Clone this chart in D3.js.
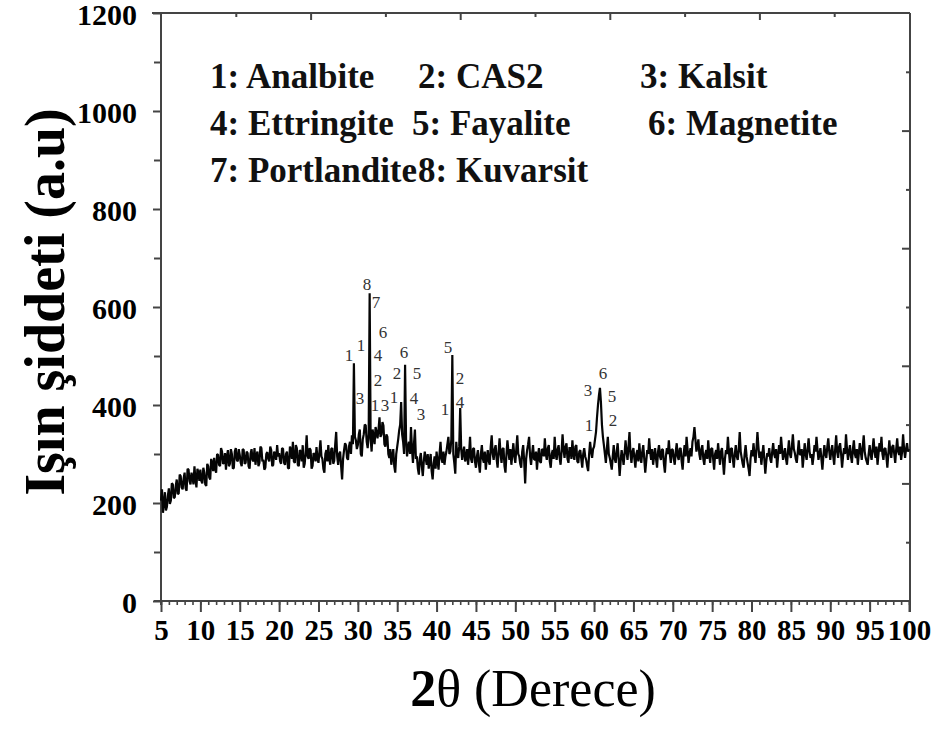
<!DOCTYPE html>
<html><head><meta charset="utf-8">
<script src="https://cdn.jsdelivr.net/npm/d3@7"></script>
<style>body{margin:0;background:#fff}svg{display:block}</style>
</head><body><svg id="c" width="943" height="731"></svg>
<script>
// ---- data ----
const twoThetaStart = 5, twoThetaStep = 0.125;
const intensity = [
205,228,180,200,222,185,192,215,230,198,205,240,238,210,212,235,248,218,220,258,255,232,228,250,262,230,225,270,268,245,238,262,252,238,275,248,232,270,262,245,
268,245,240,272,262,238,235,280,275,252,248,290,282,265,292,270,262,300,298,278,275,312,305,280,282,302,268,295,308,275,280,310,300,270,272,305,312,288,285,310,
298,282,275,310,308,280,282,305,302,275,270,300,310,288,285,312,278,298,305,275,282,315,312,285,288,268,272,300,304,290,285,315,308,275,278,305,300,288,318,295,
302,285,280,312,310,282,278,300,305,272,270,315,308,290,325,285,282,318,312,278,275,308,305,285,318,272,280,305,338,295,290,312,308,270,276,302,298,285,314,290,
282,305,328,295,290,270,262,300,308,285,318,290,278,310,312,280,286,320,345,295,278,300,305,275,248,290,308,322,318,292,288,315,325,300,338,320,485,335,328,310,
318,340,350,300,295,330,340,360,358,325,312,340,628,330,305,350,335,320,355,345,332,350,375,335,340,365,358,320,315,340,335,300,292,310,278,295,310,275,262,300,
315,330,348,360,406,340,325,300,482,330,295,315,325,300,355,310,282,320,350,290,295,270,258,290,302,275,255,285,305,290,278,300,270,285,300,265,248,280,295,270,
305,285,268,300,325,290,282,305,278,295,305,320,335,300,305,330,502,300,282,260,325,300,292,315,394,310,288,305,315,285,292,310,278,300,335,290,282,310,312,285,
272,295,308,280,262,300,318,290,282,305,268,290,308,285,278,315,338,300,288,310,318,290,272,305,332,300,282,310,312,275,262,300,328,305,288,310,278,300,322,295,
282,310,338,300,295,280,272,305,318,285,240,290,308,320,335,295,278,300,318,290,288,305,268,295,312,285,282,310,308,295,332,300,288,312,318,285,272,300,308,290,
335,300,288,310,318,292,278,305,340,310,292,315,322,290,282,312,312,290,328,300,288,315,318,285,282,305,308,290,272,300,312,295,288,275,265,300,325,305,292,310,
315,330,345,375,400,420,435,405,360,335,318,300,282,310,335,300,292,280,268,295,318,290,282,305,322,290,255,285,308,295,278,300,328,305,288,315,345,300,282,305,
312,290,272,300,308,285,322,295,282,305,318,290,262,285,308,300,332,305,288,310,278,295,312,290,272,305,318,295,288,310,308,280,262,295,312,300,328,300,282,310,
308,290,278,305,322,295,288,310,312,285,268,300,318,295,335,310,282,300,312,295,325,335,355,330,305,315,330,300,288,310,318,290,278,300,308,290,328,300,282,310,
312,290,268,300,308,290,322,300,278,305,312,285,258,290,308,300,335,305,282,310,312,290,272,300,318,295,288,310,345,305,292,280,272,300,318,295,282,270,255,290,
308,295,322,300,282,310,345,315,292,305,278,300,318,290,260,285,302,295,312,290,282,305,322,300,292,310,272,295,318,300,335,310,288,300,312,290,278,305,328,300,
292,315,340,310,302,290,282,305,328,300,298,310,272,295,322,300,288,310,332,305,292,300,278,295,318,305,335,310,288,300,312,290,268,295,318,300,292,315,332,305,
288,305,318,295,278,310,338,305,292,315,322,300,272,295,312,300,340,310,288,305,318,295,282,310,328,300,292,310,278,300,322,305,288,315,338,305,292,285,278,300,
318,300,288,310,332,305,292,315,278,300,322,305,335,300,288,310,312,295,272,300,328,305,292,315,318,300,282,310,332,305,298,315,288,305,340,310,292,310,322,305,
310];
const xTickValues = [5,10,15,20,25,30,35,40,45,50,55,60,65,70,75,80,85,90,95,100];
const yTickValues = [0,200,400,600,800,1000,1200];
const legendRows = [
  ["1: Analbite", "2: CAS2", "3: Kalsit"],
  ["4: Ettringite", "5: Fayalite", "6: Magnetite"],
  ["7: Portlandite", "8: Kuvarsit"]
];
// peak labels: [text, 2theta, intensity]
const peakLabels = [
  ["1",28.88,502],["3",30.27,414],["1",30.4,522],["8",31.16,645],["7",32.3,610],
  ["6",33.2,547],["4",32.56,502],["2",32.56,451],["1",32.18,400],["3",33.45,400],
  ["2",34.97,465],["6",35.86,508],["5",37.51,465],["1",34.59,416],["4",37.13,414],
  ["3",38.02,380],["5",41.45,518],["1",41.07,390],["2",42.97,455],["4",42.97,406],
  ["6",61.13,465],["3",59.23,429],["5",62.28,418],["1",59.36,359],["2",62.4,369]
];
const xTitleBold = "2", xTitleRest = "θ (Derece)";
const yTitle = "Işın şiddeti (a.u)";

// ---- drawing ----
const svg = d3.select("#c");
const serif = "'Liberation Serif', 'Times New Roman', Times, serif";
const x = d3.scaleLinear().domain([5,100]).range([161,909]);
const y = d3.scaleLinear().domain([0,1200]).range([601,13]);
const axisColor = "#444";

const pts = intensity.map((v,i)=>[twoThetaStart + i*twoThetaStep, v]);

// frame lines
svg.append("line").attr("x1",152).attr("x2",910).attr("y1",y(1200)).attr("y2",y(1200))
  .attr("stroke",axisColor).attr("stroke-width",2);
svg.append("line").attr("x1",910).attr("x2",910).attr("y1",y(1200)).attr("y2",612)
  .attr("stroke",axisColor).attr("stroke-width",2);

// bottom minor ticks
const minor = d3.range(5,101,1);
svg.append("g").attr("transform",`translate(0,${y(0)})`)
  .call(d3.axisBottom(x).tickValues(minor).tickSize(4).tickSizeOuter(0).tickFormat(""))
  .call(g=>{g.select(".domain").remove(); g.selectAll("line").attr("stroke",axisColor).attr("stroke-width",1.6);});
// bottom major axis
svg.append("g").attr("transform",`translate(0,${y(0)})`)
  .call(d3.axisBottom(x).tickValues(xTickValues).tickSize(11).tickSizeOuter(0).tickPadding(7).tickFormat(d3.format("d")))
  .call(g=>{
    g.select(".domain").attr("stroke",axisColor).attr("stroke-width",2).attr("d",`M154,0H910`);
    g.selectAll("line").attr("stroke",axisColor).attr("stroke-width",2);
    g.selectAll("text").attr("fill","#000").style("font-family",serif).style("font-weight","bold").style("font-size","29px");
  });

// left axis
svg.append("g").attr("transform",`translate(${x(5)},0)`)
  .call(d3.axisLeft(y).tickValues(d3.range(100,1200,200)).tickSize(7).tickFormat(""))
  .call(g=>{g.select(".domain").remove(); g.selectAll("line").attr("stroke",axisColor).attr("stroke-width",2);});
svg.append("g").attr("transform",`translate(${x(5)},0)`)
  .call(d3.axisLeft(y).tickValues(yTickValues).tickSize(8).tickSizeOuter(0).tickPadding(16).tickFormat(d3.format("d")))
  .call(g=>{
    g.select(".domain").attr("stroke",axisColor).attr("stroke-width",2).attr("d",`M0,${y(1200)}V${y(0)+4}`);
    g.selectAll("line").attr("stroke",axisColor).attr("stroke-width",2);
    g.selectAll("text").attr("fill","#000").attr("dy","0.38em").style("font-family",serif).style("font-weight","bold").style("font-size","30px");
  });

// top axis: 10 divisions, inward
const topScale = d3.scaleLinear().domain([0,10]).range([161,909]);
svg.append("g").attr("transform",`translate(0,${y(1200)})`)
  .call(d3.axisTop(topScale).tickValues([2,4,6,8]).tickSize(-7).tickFormat(""))
  .call(g=>{g.select(".domain").remove(); g.selectAll("line").attr("stroke",axisColor).attr("stroke-width",2);});
svg.append("g").attr("transform",`translate(0,${y(1200)})`)
  .call(d3.axisTop(topScale).tickValues([1,3,5,7,9]).tickSize(-4).tickFormat(""))
  .call(g=>{g.select(".domain").remove(); g.selectAll("line").attr("stroke",axisColor).attr("stroke-width",2);});
// right axis: 10 divisions, inward
const rightScale = d3.scaleLinear().domain([0,10]).range([601,13]);
svg.append("g").attr("transform",`translate(910,0)`)
  .call(d3.axisRight(rightScale).tickValues([2,4,6,8]).tickSize(-8).tickFormat(""))
  .call(g=>{g.select(".domain").remove(); g.selectAll("line").attr("stroke",axisColor).attr("stroke-width",2);});
svg.append("g").attr("transform",`translate(910,0)`)
  .call(d3.axisRight(rightScale).tickValues([1,3,5,7,9]).tickSize(-4).tickFormat(""))
  .call(g=>{g.select(".domain").remove(); g.selectAll("line").attr("stroke",axisColor).attr("stroke-width",2);});

// pattern line
svg.append("path").datum(pts)
  .attr("d", d3.line().x(d=>x(d[0])).y(d=>y(d[1])))
  .attr("fill","none").attr("stroke","#050505").attr("stroke-width",2.2).attr("stroke-linejoin","miter").attr("stroke-miterlimit",2);

// peak labels
svg.append("g").selectAll("text").data(peakLabels).join("text")
  .attr("x",d=>x(d[1])).attr("y",d=>y(d[2]))
  .attr("text-anchor","middle").attr("dominant-baseline","central")
  .style("font-family",serif).style("font-size","17px").attr("fill","#333")
  .text(d=>d[0]);

// legend
const colX = [[210,418,640],[210,412,648],[210,418]];
const rowY = [88,135,182];
legendRows.forEach((row,ri)=>{
  row.forEach((t,ci)=>{
    svg.append("text").attr("x",colX[ri][ci]).attr("y",rowY[ri])
      .style("font-family",serif).style("font-weight","bold").style("font-size","35px")
      .attr("fill","#111").text(t);
  });
});

// axis titles
const xt = svg.append("text").attr("x",533).attr("y",706).attr("text-anchor","middle")
  .style("font-family",serif).style("font-size","52px").attr("fill","#000");
xt.append("tspan").style("font-weight","bold").text(xTitleBold);
xt.append("tspan").text(xTitleRest);

svg.append("text").attr("transform","translate(64,302) rotate(-90)").attr("text-anchor","middle")
  .style("font-family",serif).style("font-weight","bold").style("font-size","56px").attr("fill","#000")
  .text(yTitle);
</script>
</body></html>
